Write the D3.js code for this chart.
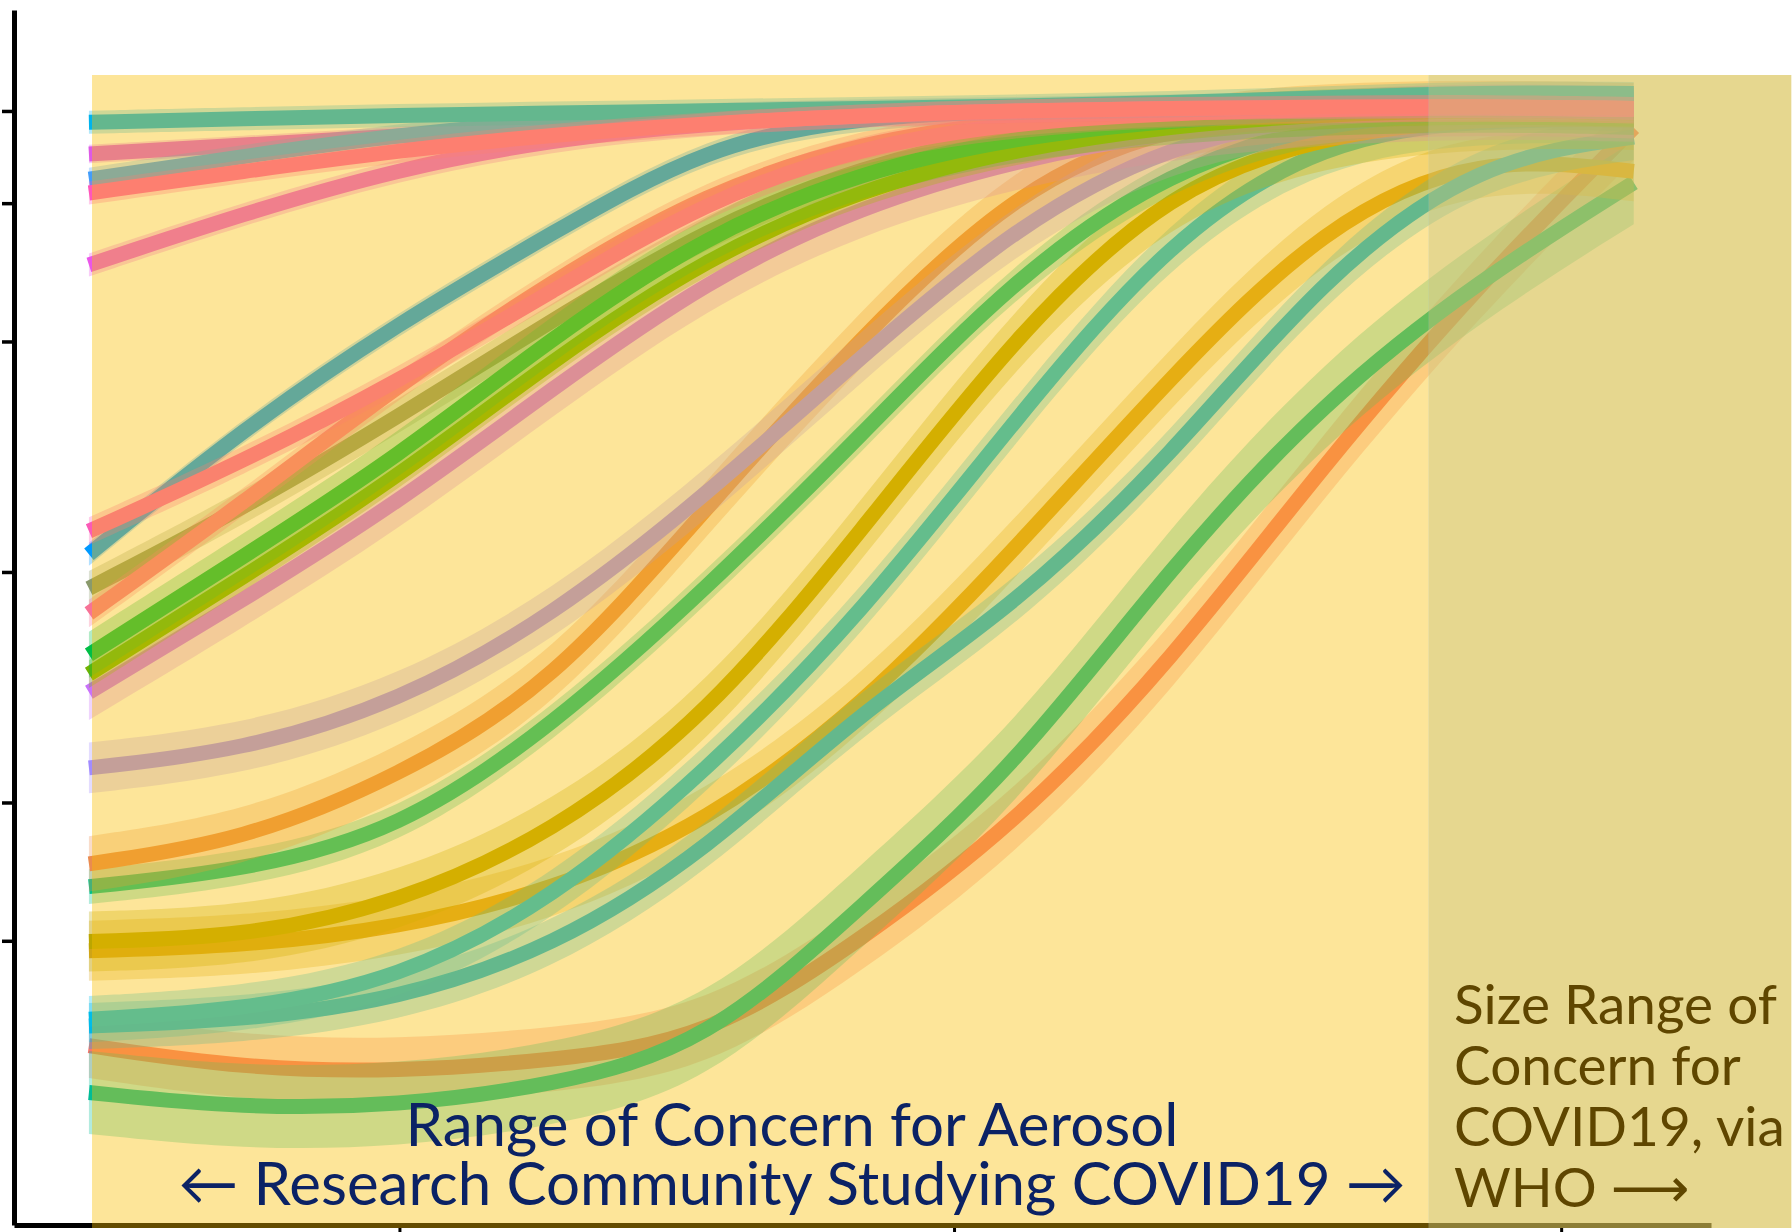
<!DOCTYPE html>
<html>
<head>
<meta charset="utf-8">
<script src="https://cdn.jsdelivr.net/npm/d3@7"></script>
<style>
  body { margin: 0; background: #fff; }
  text { font-family: "Lato", "DejaVu Sans", sans-serif; }
</style>
</head>
<body>
<div id="chart"></div>
<script>
const W = 1792, H = 1232;

// sample positions along the size axis (log diameter, arbitrary units)
const xs = [0, 1, 2, 3, 4, 5, 6, 7, 8, 9, 10];
const xTicks = [2.01, 5.6, 9.53];
const yTicks = [-1.6, -1, 0, 1, 1.6, 2];

// curves in drawing order (first = bottom)
const seriesColors = [
  "#f8766d", "#00bc96", "#d9a421", "#00b5e9", "#00bde9", "#bba600", "#00c08b",
  "#ea8b50", "#a18bff", "#8a9a6c", "#c971fa", "#72b300", "#00be46", "#0099ff",
  "#f77296", "#fb5ab7", "#dd59e6", "#439dfa", "#00b3ed", "#ea56e9", "#ff56bb"
];
const seriesValues = [
  [-2.055, -2.154, -2.169, -2.119, -2.030, -1.598, -1.093, -0.394, 0.474, 1.252, 1.927],
  [-2.258, -2.327, -2.317, -2.228, -2.055, -1.450, -0.845, 0.023, 0.747, 1.267, 1.689],
  [-1.643, -1.623, -1.544, -1.385, -1.088, -0.592, 0.102, 0.846, 1.515, 1.813, 1.738],
  [-1.970, -1.945, -1.856, -1.633, -1.212, -0.600, -0.146, 0.499, 1.292, 1.788, 1.887],
  [-1.940, -1.901, -1.772, -1.425, -0.865, -0.185, 0.667, 1.456, 1.877, 1.966, 1.961],
  [-1.603, -1.584, -1.440, -1.137, -0.632, 0.177, 1.034, 1.669, 1.897, 1.971, 1.961],
  [-1.365, -1.296, -1.127, -0.671, -0.071, 0.593, 1.287, 1.748, 1.956, 2.001, 1.986],
  [-1.266, -1.167, -0.889, -0.493, 0.281, 1.024, 1.664, 1.946, 2.001, 2.016, 2.001],
  [-0.850, -0.775, -0.567, -0.195, 0.335, 0.935, 1.505, 1.862, 1.986, 2.006, 1.991],
  [-0.071, 0.276, 0.672, 1.094, 1.490, 1.763, 1.912, 1.976, 2.001, 2.011, 2.001],
  [-0.522, -0.121, 0.300, 0.796, 1.267, 1.590, 1.788, 1.912, 1.976, 2.001, 1.986],
  [-0.443, -0.022, 0.410, 0.920, 1.366, 1.664, 1.837, 1.937, 1.986, 2.006, 1.991],
  [-0.359, 0.067, 0.499, 1.019, 1.466, 1.738, 1.887, 1.961, 1.996, 2.011, 1.996],
  [0.077, 0.623, 1.079, 1.471, 1.852, 1.976, 2.001, 2.011, 2.016, 2.021, 2.011],
  [-0.180, 0.300, 0.811, 1.267, 1.649, 1.867, 1.961, 1.996, 2.011, 2.016, 2.006],
  [0.177, 0.479, 0.826, 1.218, 1.614, 1.847, 1.951, 1.991, 2.006, 2.016, 2.006],
  [1.813, 1.852, 1.892, 1.927, 1.961, 1.986, 2.001, 2.011, 2.026, 2.041, 2.031],
  [1.704, 1.803, 1.897, 1.956, 1.986, 2.001, 2.011, 2.021, 2.036, 2.061, 2.051],
  [1.951, 1.966, 1.981, 1.991, 2.001, 2.011, 2.021, 2.036, 2.056, 2.081, 2.076],
  [1.332, 1.555, 1.748, 1.877, 1.946, 1.981, 2.001, 2.011, 2.016, 2.021, 2.011],
  [1.644, 1.738, 1.828, 1.897, 1.946, 1.981, 2.001, 2.011, 2.016, 2.021, 2.011]
];
// half-width of each confidence ribbon
const seriesSpread = [
  0.14, 0.18, 0.13, 0.10, 0.10, 0.13, 0.075, 0.12, 0.11, 0.075, 0.12,
  0.06, 0.10, 0.05, 0.06, 0.06, 0.04, 0.05, 0.05, 0.05, 0.05
];

// shaded size ranges
const regionNames = ["research", "who"];
const regionX0 = [0.02, 8.67];
const regionX1 = [8.67, 11.02];
const regionYTop = 2.156, regionYBottom = -2.846;

const researchLines = ["Range of Concern for Aerosol", "\u2190 Research Community Studying COVID19 \u2192"];
const whoLines = ["Size Range of", "Concern for", "COVID19, via", "WHO \u27F6"];

const svg = d3.select("#chart").append("svg").attr("width", W).attr("height", H);

const x = d3.scaleLinear().domain([-0.485, 10.5]).range([14, 1711]);
const y = d3.scaleLinear().domain([-2.833, 2.438]).range([1225, 10]);

// axes (drawn first so that the shaded ranges tint them)
svg.append("g")
  .attr("transform", `translate(${x(-0.485)},0)`)
  .call(d3.axisLeft(y).tickValues(yTicks).tickFormat("").tickSize(12).tickSizeOuter(0))
  .call(g => g.select(".domain").attr("stroke-width", 5))
  .call(g => g.selectAll(".tick line").attr("stroke-width", 3.5));

svg.append("g")
  .attr("transform", `translate(0,${y(-2.833)})`)
  .call(d3.axisBottom(x).tickValues(xTicks).tickFormat("").tickSize(10).tickSizeOuter(0))
  .call(g => g.select(".domain").attr("stroke-width", 5))
  .call(g => g.selectAll(".tick line").attr("stroke-width", 3));

const ribbon = d3.area()
  .x(d => x(d.u))
  .y0(d => y(d.v - d.s))
  .y1(d => y(d.v + d.s))
  .curve(d3.curveBasis);

const line = d3.line()
  .x(d => x(d.u))
  .y(d => y(d.v))
  .curve(d3.curveBasis);

const series = seriesValues.map((vals, k) => ({
  color: seriesColors[k],
  pts: vals.map((v, i) => ({ u: xs[i], v: v, s: seriesSpread[k] }))
}));

const curves = svg.append("g").selectAll("g").data(series).join("g");
curves.append("path")
  .attr("d", d => ribbon(d.pts))
  .attr("fill", d => d.color)
  .attr("fill-opacity", 0.3);
curves.append("path")
  .attr("d", d => line(d.pts))
  .attr("fill", "none")
  .attr("stroke", d => d.color)
  .attr("stroke-width", 15);

// translucent overlays for the two size ranges
const regionFill = { research: "#f9bf00", who: "#d9c253" };
const regionOpacity = { research: 0.4, who: 0.65 };
svg.append("g").selectAll("rect")
  .data(regionNames)
  .join("rect")
  .attr("x", (d, i) => x(regionX0[i]))
  .attr("width", (d, i) => x(regionX1[i]) - x(regionX0[i]))
  .attr("y", y(regionYTop))
  .attr("height", y(regionYBottom) - y(regionYTop))
  .attr("fill", d => regionFill[d])
  .attr("fill-opacity", d => regionOpacity[d]);

// annotations
const res = svg.append("g").attr("fill", "#0b2265");
const resText = res.selectAll("text").data(researchLines).join("text")
  .attr("x", 792)
  .attr("y", (d, i) => 1146 + i * 59)
  .attr("text-anchor", "middle")
  .attr("font-size", 58)
  .text(d => d);
const w0 = resText.nodes()[0].getComputedTextLength();
resText.attr("font-size", 58 * 773 / w0);

const who = svg.append("g").attr("fill", "#5f4600");
const whoText = who.selectAll("text").data(whoLines).join("text")
  .attr("x", 1454)
  .attr("y", (d, i) => 1024 + i * 61)
  .attr("font-size", 52)
  .text(d => d);
const w1 = whoText.nodes()[0].getComputedTextLength();
whoText.attr("font-size", 52 * 323 / w1);
</script>
</body>
</html>
